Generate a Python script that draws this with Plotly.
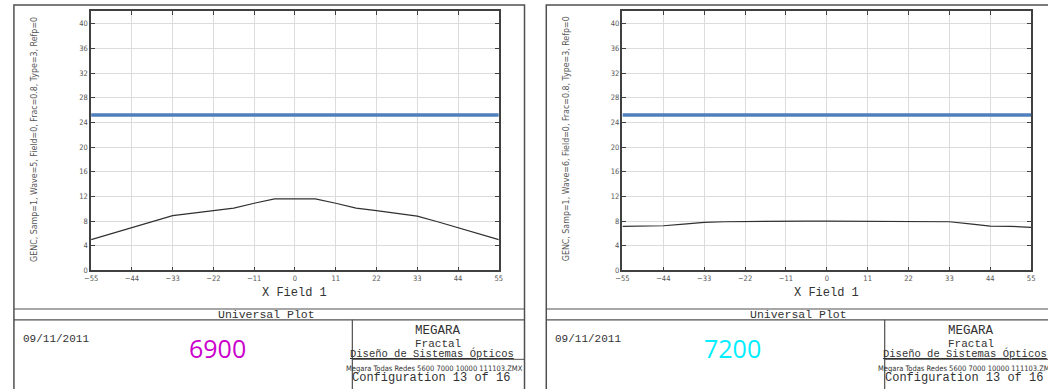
import plotly.graph_objects as go

W, H = 1048, 389

# ---------------- data ----------------
x_field = [-55, -49.5, -44, -38.5, -33, -27.5, -22, -16.5, -11, -5.5, 0,
           5.5, 11, 16.5, 22, 27.5, 33, 38.5, 44, 49.5, 55]
genc_6900 = [5.0, 6.0, 7.0, 8.0, 8.9, 9.3, 9.7, 10.1, 10.9, 11.6, 11.6,
             11.6, 10.9, 10.1, 9.7, 9.3, 8.8, 7.9, 6.9, 6.0, 5.0]
genc_7200 = [7.15, 7.2, 7.25, 7.5, 7.8, 7.9, 7.95, 8.0, 8.0, 8.0, 8.0,
             8.0, 8.0, 7.95, 7.95, 7.95, 7.9, 7.55, 7.2, 7.15, 7.0]
limit_x = [-55, 55]
limit_y = [25.2, 25.2]

x_ticks = [-55, -44, -33, -22, -11, 0, 11, 22, 33, 44, 55]
y_ticks = [0, 4, 8, 12, 16, 20, 24, 28, 32, 36, 40]

panel_labels = ["6900", "7200"]
panel_label_colors = ["#cc00cc", "#00eeff"]
wave_ids = [5, 6]
date_text = "09/11/2011"
file_text = "Megara Todas Redes 5600 7000 10000 111103.ZMX"
config_text = "Configuration 13 of 16"

# ---------------- helpers ----------------
def px(x):
    return x / W

def py(y):
    return 1 - y / H

MONO = "Liberation Mono, Courier New, monospace"
NARROW = "Liberation Sans Narrow, DejaVu Sans Condensed, Arial Narrow, sans-serif"

fig = go.Figure()

panels = [
    dict(frame_l=7, frame_r=523, plot_l=85, plot_r=497, label_cx=213),
    dict(frame_l=545, frame_r=1061, plot_l=622, plot_r=1035, label_cx=733),
]
series = [genc_6900, genc_7200]

shapes = []
annotations = []

for i, p in enumerate(panels):
    xa = "x" if i == 0 else "x2"
    ya = "y" if i == 0 else "y2"
    fig.add_trace(go.Scatter(x=limit_x, y=limit_y, mode="lines",
                             line=dict(color="#4f7fbd", width=3.5),
                             xaxis=xa, yaxis=ya, showlegend=False,
                             hoverinfo="skip"))
    fig.add_trace(go.Scatter(x=x_field, y=series[i], mode="lines",
                             line=dict(color="#303030", width=1.2),
                             xaxis=xa, yaxis=ya, showlegend=False))

    axis_common = dict(showline=True, linecolor="#404040", linewidth=1.5,
                       mirror="ticks", ticks="inside", ticklen=4,
                       tickcolor="#404040", tickwidth=1,
                       showgrid=True, gridcolor="#dcdcdc", gridwidth=1,
                       zeroline=False,
                       tickfont=dict(family=NARROW, size=7.5, color="#555"))
    xkey = "xaxis" if i == 0 else "xaxis2"
    ykey = "yaxis" if i == 0 else "yaxis2"
    fig.update_layout(**{
        xkey: dict(axis_common, domain=[px(p["plot_l"]), px(p["plot_r"])],
                   range=[-55, 55], tickvals=x_ticks,
                   anchor=ya),
        ykey: dict(axis_common, domain=[py(274), py(11)],
                   range=[0, 42.08], tickvals=y_ticks,
                   anchor=xa),
    })

    fl, fr = p["frame_l"], p["frame_r"]
    line_col = "#505050"
    # outer frame
    shapes.append(dict(type="rect", xref="paper", yref="paper",
                       x0=px(fl), x1=px(fr), y0=py(420), y1=py(5),
                       line=dict(color=line_col, width=1.5)))
    # title block lines
    for yy in (313, 324):
        shapes.append(dict(type="line", xref="paper", yref="paper",
                           x0=px(fl), x1=px(fr), y0=py(yy), y1=py(yy),
                           line=dict(color=line_col, width=1.2)))
    div_x = fl + 342
    shapes.append(dict(type="line", xref="paper", yref="paper",
                       x0=px(div_x), x1=px(div_x), y0=py(324), y1=py(420),
                       line=dict(color=line_col, width=1.2)))
    shapes.append(dict(type="line", xref="paper", yref="paper",
                       x0=px(div_x), x1=px(fr), y0=py(364), y1=py(364),
                       line=dict(color=line_col, width=1)))

    cx_plot = (p["plot_l"] + p["plot_r"]) / 2
    blk_cx = (div_x + fr) / 2

    def ann(text, x, y, size, family=MONO, color="#333", xanchor="center",
            textangle=0):
        annotations.append(dict(text=text, x=px(x), y=py(y), xref="paper",
                                yref="paper", showarrow=False,
                                xanchor=xanchor, yanchor="middle",
                                textangle=textangle,
                                font=dict(family=family, size=size,
                                          color=color)))

    ann("X Field 1", cx_plot, 297, 12)
    ann("Universal Plot", fl + 255, 318.5, 11.5)
    ann(date_text, fl + 7, 343, 11, xanchor="left")
    ann(panel_labels[i], p["label_cx"], 353, 25, family="Open Sans, sans-serif",
        color=panel_label_colors[i])
    ann("MEGARA", blk_cx, 335, 12.5)
    ann("Fractal", blk_cx, 348, 11)
    ann("<u>Diseño de Sistemas Ópticos</u>", blk_cx - 6, 358.5, 10.5)
    ann(file_text, blk_cx - 4, 373, 7.5, family=NARROW)
    ann(config_text, blk_cx - 7, 382.5, 12)
    ann(f"GENC, Samp=1, Wave={wave_ids[i]}, Field=0, Frac=0.8, Type=3, Refp=0",
        fl + 20, 141, 8.8, family=NARROW, color="#555", textangle=-90)

fig.update_layout(width=W, height=H, margin=dict(l=0, r=0, t=0, b=0),
                  paper_bgcolor="white", plot_bgcolor="white",
                  shapes=shapes, annotations=annotations, showlegend=False)

fig.write_html("out.html", config={"displayModeBar": False},
               post_script="document.body.style.margin='0';"
                           "document.body.style.overflow='hidden';")
